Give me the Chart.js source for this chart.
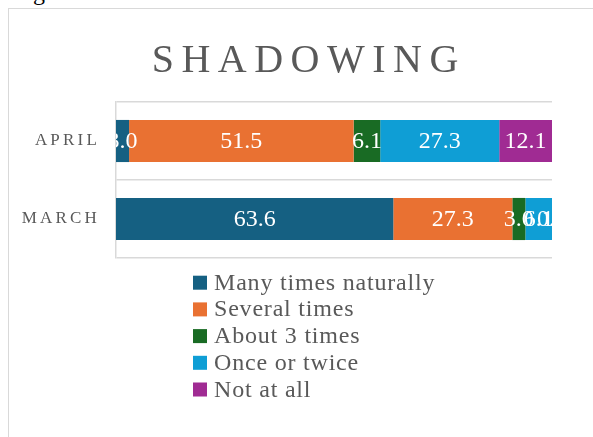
<!DOCTYPE html>
<html>
<head>
<meta charset="utf-8">
<script src="https://cdn.jsdelivr.net/npm/chart.js@4"></script>
<style>
  html, body { margin: 0; padding: 0; background: #fff; overflow: hidden; }
  body { width: 593px; height: 437px; position: relative; }
  #arriba { position: absolute; left: 33px; top: -20px; font: 24px/24px "Liberation Serif", serif; color: #000; }
  #marco { position: absolute; left: 8px; top: 8px; width: 600px; height: 440px; border-left: 1px solid #d9d9d9; border-top: 1px solid #d9d9d9; }
  #caja { position: relative; width: 592px; height: 440px; }
</style>
</head>
<body>
<div id="arriba">g</div>
<div id="marco"><div id="caja"><canvas id="grafica"></canvas></div></div>
<script>
const tituloGrafica = 'SHADOWING';
const meses = ['APRIL', 'MARCH'];

const manyTimes = [3.0, 63.6];
const severalTimes = [51.5, 27.3];
const aboutThree = [6.1, 3.0];
const onceOrTwice = [27.3, 6.1];
const notAtAll = [12.1, 0.0];

const nombresSeries = ['Many times naturally', 'Several times', 'About 3 times', 'Once or twice', 'Not at all'];
const coloresSeries = ['#156082', '#E97132', '#196B24', '#0F9ED5', '#A02B93'];

const gris = '#595959';
const fuente = '"Liberation Serif", serif';

// title with letter spacing, and spacing for the category labels drawn after it
const tituloPlugin = {
    id: 'tituloEspaciado',
    beforeDraw(chart) {
        const ctx = chart.ctx;
        ctx.save();
        ctx.font = '40px ' + fuente;
        ctx.letterSpacing = '7.5px';
        ctx.fillStyle = gris;
        ctx.textAlign = 'center';
        ctx.textBaseline = 'alphabetic';
        ctx.fillText(tituloGrafica, chart.width / 2 + 3.75, 63);
        ctx.restore();
        ctx.letterSpacing = '3.2px';
    },
    beforeDatasetsDraw(chart) {
        chart.ctx.letterSpacing = '0px';
    }
};

const etiquetasPlugin = {
    id: 'etiquetas',
    afterDatasetsDraw(chart) {
        const ctx = chart.ctx;
        const area = chart.chartArea;
        ctx.save();
        ctx.beginPath();
        ctx.rect(area.left, area.top, area.right - area.left, area.bottom - area.top);
        ctx.clip();
        ctx.font = '24px ' + fuente;
        ctx.fillStyle = '#ffffff';
        ctx.textAlign = 'center';
        ctx.textBaseline = 'middle';
        chart.data.datasets.forEach((ds, i) => {
            chart.getDatasetMeta(i).data.forEach((bar, j) => {
                ctx.fillText(ds.data[j].toFixed(1), (bar.x + bar.base) / 2, bar.y + 1);
            });
        });
        ctx.restore();
    }
};

// legend as one left-aligned column under the plot
const leyendaPlugin = {
    id: 'leyendaColumna',
    afterDraw(chart) {
        const ctx = chart.ctx;
        const x0 = chart.width / 2 - 112;
        let y = chart.chartArea.bottom + 31.7;
        ctx.save();
        ctx.font = '24px ' + fuente;
        ctx.letterSpacing = '0.8px';
        ctx.textAlign = 'left';
        ctx.textBaseline = 'alphabetic';
        chart.data.datasets.forEach(ds => {
            ctx.fillStyle = ds.backgroundColor;
            ctx.fillRect(x0, y - 14, 14, 14);
            ctx.fillStyle = gris;
            ctx.fillText(ds.label, x0 + 21, y);
            y += 26.7;
        });
        ctx.restore();
    }
};

function crearGrafica() {
    const valores = [manyTimes, severalTimes, aboutThree, onceOrTwice, notAtAll];

    const datos = {
        labels: meses,
        datasets: valores.map((v, i) => ({
            label: nombresSeries[i],
            data: v,
            backgroundColor: coloresSeries[i],
            borderWidth: 0,
            barPercentage: 0.54,
            categoryPercentage: 1
        }))
    };

    const opciones = {
        responsive: true,
        maintainAspectRatio: false,
        animation: false,
        indexAxis: 'y',
        layout: { padding: { top: 93, right: 49, bottom: 191, left: 0 } },
        plugins: {
            legend: { display: false },
            title: { display: false },
            tooltip: { enabled: false }
        },
        scales: {
            x: { stacked: true, min: 0, max: 100, display: false },
            y: {
                stacked: true,
                grid: { offset: true, color: '#d9d9d9', lineWidth: 1.5, drawTicks: false },
                border: { color: '#d9d9d9', width: 1.5 },
                ticks: { color: gris, font: { family: fuente, size: 17 }, padding: 16 },
                afterFit(scale) { scale.width = 107; }
            }
        }
    };

    new Chart(document.getElementById('grafica'), {
        type: 'bar',
        data: datos,
        options: opciones,
        plugins: [tituloPlugin, etiquetasPlugin, leyendaPlugin]
    });
}

crearGrafica();
</script>
</body>
</html>
